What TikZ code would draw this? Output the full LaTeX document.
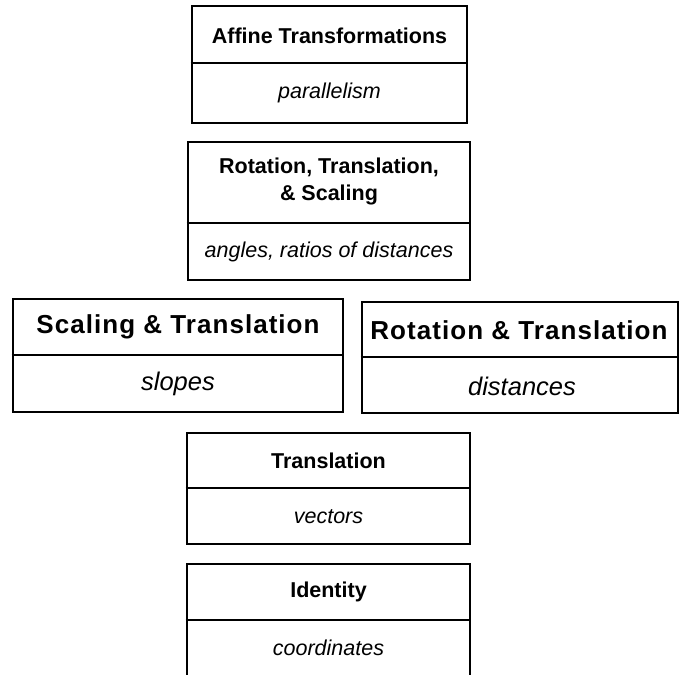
\documentclass[tikz,border=0pt]{standalone}
\usepackage{fontspec}
\setmainfont{Liberation Sans}
\usetikzlibrary{fit}
\begin{document}
\begin{tikzpicture}[x=1pt,y=-1pt,
  boxframe/.style={draw=black, line width=2.7pt, inner sep=0pt},
  divline/.style={line width=1.5pt},
  ttl/.style={font=\fontsize{21.5}{26}\selectfont\bfseries, align=center, inner sep=0pt},
  sublabel/.style={font=\fontsize{21.5}{26}\selectfont\itshape, inner sep=0pt},
  bigttl/.style={font=\fontsize{26}{30}\selectfont\bfseries\addfontfeature{LetterSpace=4}, inner sep=0pt},
  bigsub/.style={font=\fontsize{25.5}{30}\selectfont\itshape, inner sep=0pt}]
\useasboundingbox (0,0) rectangle (679,674);
% Box 1
\node[boxframe, fit={(192,6) (467,123)}] (b1) {};
\draw[divline] (b1.west |- 0,63) coordinate (d1a) -- (b1.east |- 0,63) coordinate (d1b);
\node[ttl] (t1) at (329.5,36) {Affine Transformations};
\node[sublabel] (s1) at (329.5,93) {parallelism};
% Box 2
\node[boxframe, fit={(188,142) (470,280)}] (b2) {};
\draw[divline] (b2.west |- 0,223) coordinate (d2a) -- (b2.east |- 0,223) coordinate (d2b);
\node[ttl] (t2) at (329,181) {Rotation, Translation,\\[1pt] \& Scaling};
\node[sublabel] (s2) at (329,252) {angles, ratios of distances};
% Box 3 left
\node[boxframe, fit={(13,299) (343,412)}] (b3) {};
\draw[divline] (b3.west |- 0,355) coordinate (d3a) -- (b3.east |- 0,355) coordinate (d3b);
\node[bigttl] (t3) at (178,327) {Scaling \& Translation};
\node[bigsub] (s3) at (178,384) {slopes};
% Box 3 right
\node[boxframe, fit={(362,302) (678,413)}] (b4) {};
\draw[divline] (b4.west |- 0,357) coordinate (d4a) -- (b4.east |- 0,357) coordinate (d4b);
\node[bigttl] (t4) at (519,330) {Rotation \& Translation};
\node[bigsub] (s4) at (522,386) {distances};
% Box 4
\node[boxframe, fit={(187,433) (470,544)}] (b5) {};
\draw[divline] (b5.west |- 0,488) coordinate (d5a) -- (b5.east |- 0,488) coordinate (d5b);
\node[ttl] (t5) at (328.5,461) {Translation};
\node[sublabel] (s5) at (328.5,517) {vectors};
% Box 5
\node[boxframe, fit={(187,564) (470,700)}] (b6) {};
\draw[divline] (b6.west |- 0,620) coordinate (d6a) -- (b6.east |- 0,620) coordinate (d6b);
\node[ttl] (t6) at (328.5,592) {Identity};
\node[sublabel] (s6) at (328.5,648) {coordinates};
\end{tikzpicture}
\end{document}
